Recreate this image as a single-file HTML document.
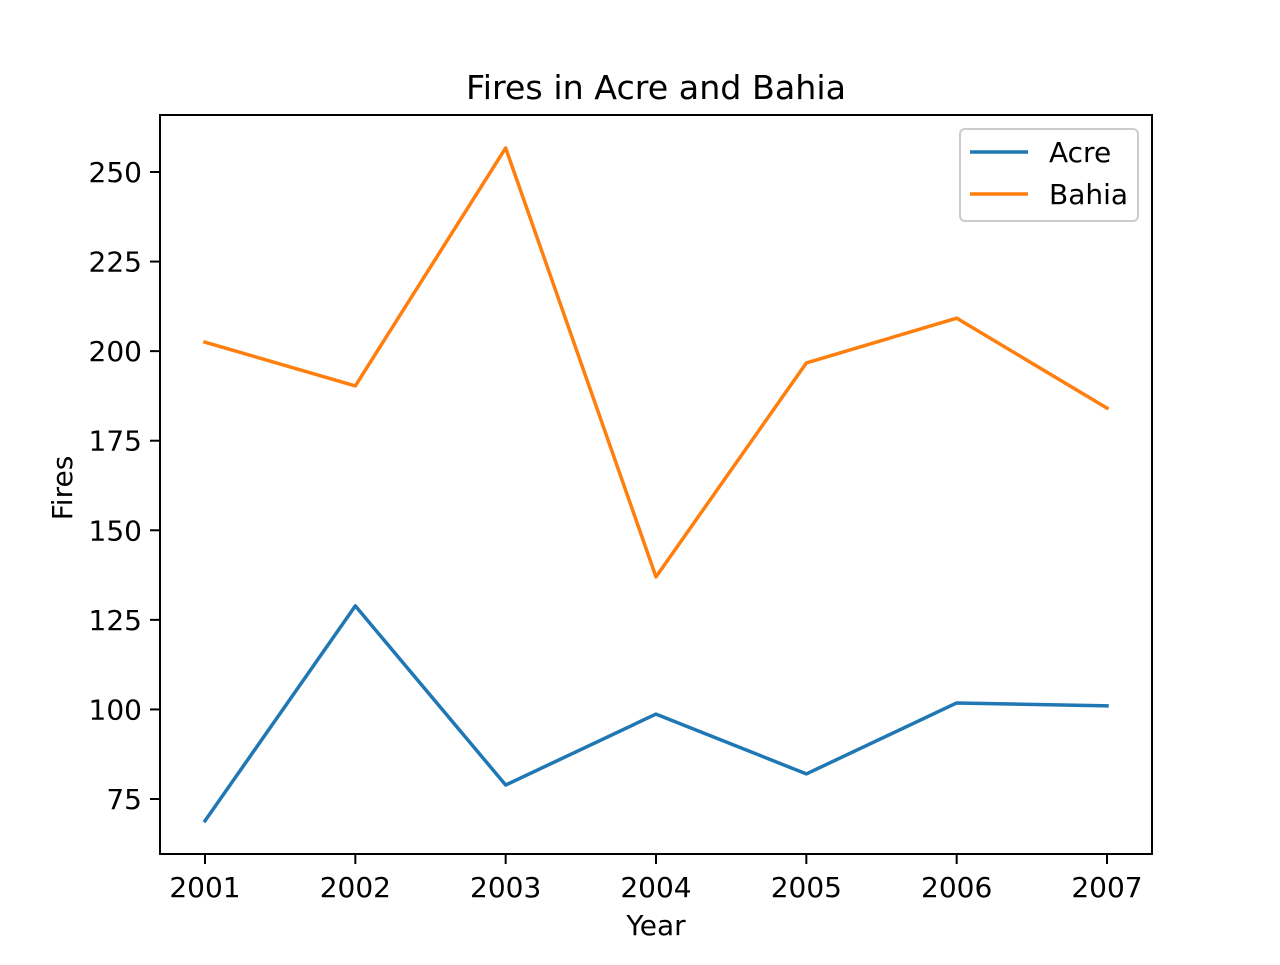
<!DOCTYPE html>
<html><head><meta charset="utf-8"><style>
body{margin:0;background:#fff}
svg text{font-family:"DejaVu Sans","Liberation Sans",sans-serif;fill:#000}
</style></head><body>
<svg id="chart" width="1280" height="960" xmlns="http://www.w3.org/2000/svg"></svg>
<script>
const years = [2001, 2002, 2003, 2004, 2005, 2006, 2007];
const acre = [68.9, 128.9, 78.9, 98.7, 82, 101.8, 101];
const bahia = [202.5, 190.3, 256.7, 137, 196.7, 209.2, 184.1];
const yTicks = [75, 100, 125, 150, 175, 200, 225, 250];

const NS = "http://www.w3.org/2000/svg";
const svg = document.getElementById('chart');
const L = 160, R = 1152, T = 115, B = 854;
const xs = v => 205 + (v - 2001) * (1107 - 205) / 6;
const ys = v => 799 - (v - 75) * (799 - 172) / 175;
function mk(tag, attrs, parent) {
  const e = document.createElementNS(NS, tag);
  for (const k in attrs) e.setAttribute(k, attrs[k]);
  (parent || svg).appendChild(e);
  return e;
}
function txt(s, x, y, size, anchor, name) {
  const t = mk('text', {x: x, y: y, 'font-size': size, 'text-anchor': anchor});
  t.textContent = s;
  
  
  return t;
}
function series(vals, color, name) {
  const p = mk('polyline', {points: years.map((y, i) => xs(y) + ',' + ys(vals[i])).join(' '), fill: 'none', stroke: color, 'stroke-width': 3.5, 'stroke-linejoin': 'round', 'stroke-linecap': 'square'});
  
  
}
series(acre, '#1f77b4', 'acre-line');
series(bahia, '#ff7f0e', 'bahia-line');
const fr = mk('rect', {x: L, y: T, width: R - L, height: B - T, fill: 'none', stroke: '#000', 'stroke-width': 2});


years.forEach(y => {
  const t = mk('line', {x1: xs(y), x2: xs(y), y1: B, y2: B + 10, stroke: '#000', 'stroke-width': 2});
  
  
  txt(String(y), xs(y), B + 43, 28, 'middle', 'x-tick-label');
});
yTicks.forEach(v => {
  const t = mk('line', {x1: L - 10, x2: L, y1: ys(v), y2: ys(v), stroke: '#000', 'stroke-width': 2});
  
  
  txt(String(v), L - 18, ys(v) + 10, 28, 'end', 'y-tick-label');
});
txt('Year', 656, 935, 28, 'middle', 'x-axis-title');
const yt = txt('Fires', 72, 488, 28, 'middle', 'y-axis-title');
yt.setAttribute('transform', 'rotate(-90 72 488)');
txt('Fires in Acre and Bahia', 656, 99, 33.3, 'middle', 'chart-title');
const lg = mk('g', {});


mk('rect', {x: 960, y: 129, width: 178, height: 92, rx: 5, fill: '#fff', 'fill-opacity': 0.8, stroke: '#ccc', 'stroke-width': 2}, lg);
[['Acre', '#1f77b4', 152], ['Bahia', '#ff7f0e', 194]].forEach(([n, c, y]) => {
  const l = mk('line', {x1: 970, x2: 1028, y1: y, y2: y, stroke: c, 'stroke-width': 3.5}, lg);
  
  
  const t = txt(n, 1049, y + 10, 28, 'start', 'legend-entry');
  lg.appendChild(t);
});
</script>
</body></html>
